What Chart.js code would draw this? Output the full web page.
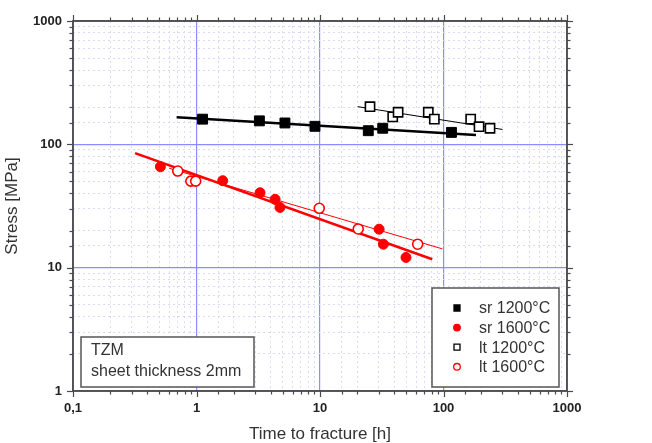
<!DOCTYPE html>
<html>
<head>
<meta charset="utf-8">
<script src="https://cdn.jsdelivr.net/npm/chart.js@4/dist/chart.umd.min.js"></script>
<style>
html,body{margin:0;padding:0;background:#fff;}
canvas{display:block;}
</style>
</head>
<body>
<canvas id="c" width="652" height="443"></canvas>
<script>
// ---- data ----
const seriesLabels = ['sr 1200°C', 'sr 1600°C', 'lt 1200°C', 'lt 1600°C'];

const srTime1200   = [1.12, 3.23, 5.2, 9.1, 24.6, 32.2, 116];
const srStress1200 = [160, 155, 149, 140, 129, 135, 125];

const srTime1600   = [0.51, 1.63, 3.27, 4.33, 4.74, 30.1, 32.6, 49.7];
const srStress1600 = [65.8, 50.7, 40.5, 35.8, 30.8, 20.5, 15.5, 12.1];

const ltTime1200   = [25.4, 38.8, 42.9, 75.3, 84.3, 166, 194, 238];
const ltStress1200 = [202, 167, 182, 182, 160, 160, 139, 135];

const ltTime1600   = [0.705, 0.90, 0.985, 9.86, 20.4, 61.8];
const ltStress1600 = [60.7, 50.3, 50.3, 30.3, 20.6, 15.5];

// fitted lines (end points)
const fitSr1200Time = [0.69, 183],  fitSr1200Stress = [166, 119];
const fitLt1200Time = [20.2, 301],  fitLt1200Stress = [202, 132];
const fitSr1600Time = [0.318, 81.1], fitSr1600Stress = [84.9, 11.7];
const fitLt1600Time = [0.6, 98],    fitLt1600Stress = [64, 14.2];

const xTickLabels = ['0,1', '1', '10', '100', '1000'];
const yTickLabels = ['1', '10', '100', '1000'];
const noteLines = ['TZM', 'sheet thickness 2mm'];

const pts = (xs, ys) => xs.map((v, i) => ({x: v, y: ys[i]}));
const isDecade = v => Math.abs(Math.log10(v) - Math.round(Math.log10(v))) < 1e-6;
const FONT = "'Liberation Sans', Arial, sans-serif";

const MAJOR = '#8c8cff';
const MINOR = '#dadaf6';

const gridOpts = {
  color: c => (c.tick && isDecade(c.tick.value)) ? MAJOR : MINOR,
  lineWidth: c => (c.tick && isDecade(c.tick.value)) ? 1.2 : 1,
  drawTicks: false
};
const borderOpts = {
  display: false,
  dash: c => (c.tick && isDecade(c.tick.value)) ? [] : [2, 3]
};

const framePlugin = {
  id: 'frame',
  afterDraw(chart) {
    const {ctx, chartArea: a, scales: {x, y}} = chart;
    ctx.save();
    ctx.strokeStyle = '#4a4a4a';
    ctx.lineWidth = 1.2;
    const line = (x1, y1, x2, y2) => { ctx.beginPath(); ctx.moveTo(x1, y1); ctx.lineTo(x2, y2); ctx.stroke(); };
    x.ticks.forEach(t => {
      const px = Math.round(x.getPixelForValue(t.value)) + 0.5;
      const L = isDecade(t.value) ? 6 : 3.5;
      line(px, a.bottom, px, a.bottom + L);
      line(px, a.top, px, a.top - L);
    });
    y.ticks.forEach(t => {
      const py = Math.round(y.getPixelForValue(t.value)) + 0.5;
      const L = isDecade(t.value) ? 6 : 3.5;
      line(a.left, py, a.left - L, py);
      line(a.right, py, a.right + L, py);
    });
    ctx.lineWidth = 1.8;
    ctx.strokeRect(a.left, a.top, a.right - a.left, a.bottom - a.top);

    // note box
    const nb = {l: a.left + 8, t: a.bottom - 54, w: 173, h: 50};
    ctx.fillStyle = '#fff';
    ctx.fillRect(nb.l, nb.t, nb.w, nb.h);
    ctx.lineWidth = 1.5; ctx.strokeStyle = '#555';
    ctx.strokeRect(nb.l, nb.t, nb.w, nb.h);
    ctx.fillStyle = '#333';
    ctx.font = "16px " + FONT;
    ctx.textBaseline = 'middle'; ctx.textAlign = 'left';
    noteLines.forEach((s, i) => ctx.fillText(s, nb.l + 10, nb.t + 14 + i * 21));

    // legend box
    const lb = {l: a.right - 135, t: a.bottom - 103, w: 127, h: 99};
    ctx.fillStyle = '#fff';
    ctx.fillRect(lb.l, lb.t, lb.w, lb.h);
    ctx.strokeRect(lb.l, lb.t, lb.w, lb.h);
    chart.data.datasets.slice(0, 4).forEach((ds, i) => {
      const cy = lb.t + 20 + i * 19.6;
      const cx = lb.l + 25;
      ctx.lineWidth = 1.3;
      ctx.strokeStyle = ds.borderColor;
      ctx.fillStyle = ds.backgroundColor;
      ctx.beginPath();
      if (ds.pointStyle === 'rect') ctx.rect(cx - 3, cy - 3, 6, 6);
      else ctx.arc(cx, cy, 3.3, 0, Math.PI * 2);
      ctx.fill(); ctx.stroke();
      ctx.fillStyle = '#333';
      ctx.font = "16px " + FONT;
      ctx.fillText(ds.label, lb.l + 47, cy + 1);
    });
    ctx.restore();
  }
};

new Chart(document.getElementById('c'), {
  type: 'scatter',
  data: {
    datasets: [
      {label: seriesLabels[0], data: pts(srTime1200, srStress1200), pointStyle: 'rect', pointRadius: 7, backgroundColor: '#000', borderColor: '#000', borderWidth: 1},
      {label: seriesLabels[1], data: pts(srTime1600, srStress1600), pointStyle: 'circle', pointRadius: 5, backgroundColor: '#ff0000', borderColor: '#ff0000', borderWidth: 1},
      {label: seriesLabels[2], data: pts(ltTime1200, ltStress1200), pointStyle: 'rect', pointRadius: 6.5, backgroundColor: '#fff', borderColor: '#000', borderWidth: 1.6},
      {label: seriesLabels[3], data: pts(ltTime1600, ltStress1600), pointStyle: 'circle', pointRadius: 5, backgroundColor: '#fff', borderColor: '#ff0000', borderWidth: 1.6},
      {label: '', data: pts(fitSr1200Time, fitSr1200Stress), showLine: true, pointRadius: 0, borderColor: '#000', borderWidth: 2.6},
      {label: '', data: pts(fitLt1200Time, fitLt1200Stress), showLine: true, pointRadius: 0, borderColor: '#000', borderWidth: 1},
      {label: '', data: pts(fitSr1600Time, fitSr1600Stress), showLine: true, pointRadius: 0, borderColor: '#ff0000', borderWidth: 2.6},
      {label: '', data: pts(fitLt1600Time, fitLt1600Stress), showLine: true, pointRadius: 0, borderColor: '#ff0000', borderWidth: 1}
    ]
  },
  options: {
    responsive: false,
    animation: false,
    layout: {padding: {left: 0, top: 21, right: 85, bottom: 0}},
    plugins: {legend: {display: false}, tooltip: {enabled: false}},
    scales: {
      x: {
        type: 'logarithmic', position: 'bottom', min: 0.1, max: 1000,
        grid: gridOpts, border: borderOpts,
        afterFit: s => { s.height = 52; },
        ticks: {
          autoSkip: false, maxRotation: 0, padding: 10, color: '#222',
          font: {family: FONT, size: 13, weight: 'bold'},
          callback: v => isDecade(v) ? xTickLabels[Math.round(Math.log10(v)) + 1] : ''
        },
        title: {display: true, text: 'Time to fracture [h]', color: '#333', font: {family: FONT, size: 17, lineHeight: 1}, padding: {top: 0, bottom: 0}}
      },
      y: {
        type: 'logarithmic', position: 'left', min: 1, max: 1000,
        grid: gridOpts, border: borderOpts,
        afterFit: s => { s.width = 73; },
        ticks: {
          autoSkip: false, padding: 11, color: '#222',
          font: {family: FONT, size: 13, weight: 'bold'},
          callback: v => isDecade(v) ? yTickLabels[Math.round(Math.log10(v))] : ''
        },
        title: {display: true, text: 'Stress [MPa]', color: '#333', font: {family: FONT, size: 17, lineHeight: 1}, padding: {top: 4, bottom: 0}}
      }
    }
  },
  plugins: [framePlugin]
});
</script>
</body>
</html>
